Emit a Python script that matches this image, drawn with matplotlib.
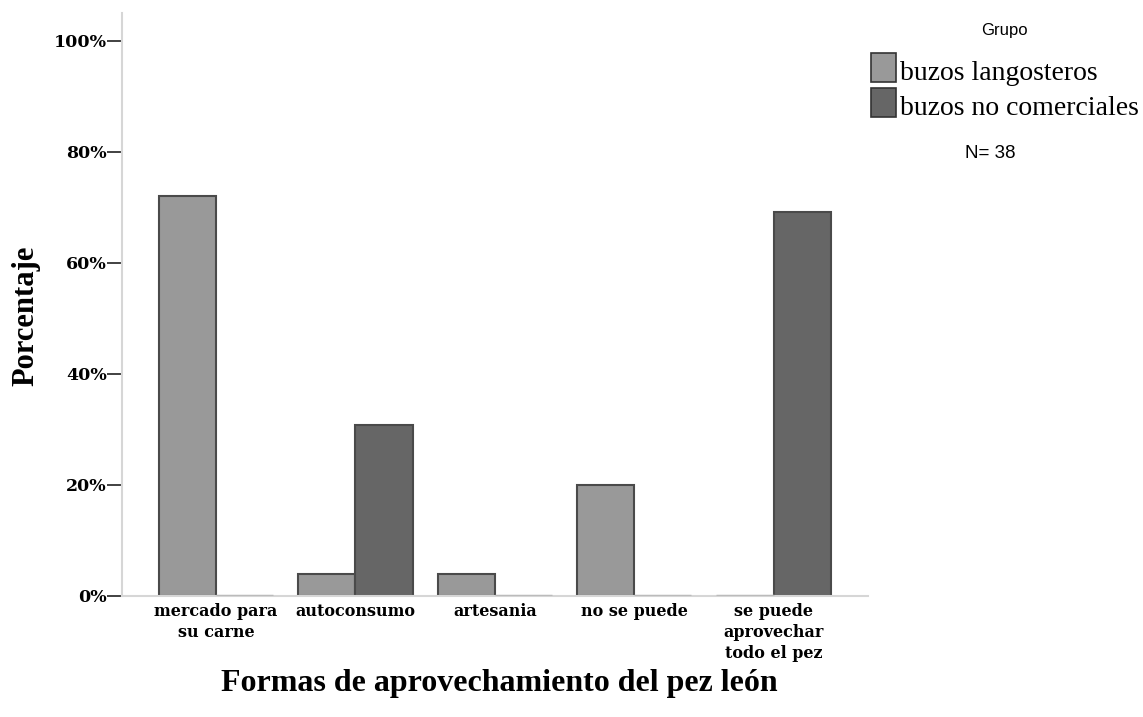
import matplotlib
matplotlib.use("Agg")
import matplotlib.pyplot as plt
import matplotlib.patches as mpatches
import numpy as np

categories = ["mercado para\nsu carne", "autoconsumo", "artesania",
              "no se puede", "se puede\naprovechar\ntodo el pez"]
groups = ["buzos langosteros", "buzos no comerciales"]
langosteros = [72.0, 4.0, 4.0, 20.0, 0.0]
no_comerciales = [0.0, 30.8, 0.0, 0.0, 69.2]
yticks = [0, 20, 40, 60, 80, 100]
n_total = 38

light = "#999999"
dark = "#666666"
edge = "#4a4a4a"
serif = ["Liberation Serif", "DejaVu Serif"]
wide_serif = ["DejaVu Serif"]
sans = ["Liberation Sans", "DejaVu Sans"]

fig = plt.figure(figsize=(11.43, 7.17), dpi=100)
ax = fig.add_axes([122 / 1143, 1 - 596 / 717, (868 - 122) / 1143, (596 - 13) / 717])

x = np.arange(len(categories))
w = 0.41
for vals, col, off in [(langosteros, light, -w / 2), (no_comerciales, dark, w / 2)]:
    for xi, v in zip(x, vals):
        if v > 0:
            ax.bar(xi + off, v, width=w, color=col, edgecolor=edge, linewidth=1.5)
        else:
            # empty category drawn as a flat grey stub on the baseline
            ax.plot([xi + off - w / 2, xi + off + w / 2], [0, 0], color="#bbbbbb", lw=2.5,
                    solid_capstyle="butt", zorder=3)

ax.set_xlim(-0.674, 4.677)
ax.set_ylim(0, 105)
for s in ["top", "right"]:
    ax.spines[s].set_visible(False)
for s in ["left", "bottom"]:
    ax.spines[s].set_color("#d6d6d6")
    ax.spines[s].set_linewidth(1.5)

ax.set_yticks(yticks)
ax.set_yticklabels([f"{t}%" for t in yticks], family=wide_serif, fontweight="bold", fontsize=12.5)
ax.tick_params(axis="y", length=11, width=1.3, color="#333333", pad=0)
ax.set_xticks(x)
ax.set_xticklabels(categories, family=wide_serif, fontweight="bold", fontsize=11.5, linespacing=1.3)
ax.tick_params(axis="x", length=0, pad=5)

fig.text(26 / 1143, 1 - 316 / 717, "Porcentaje", rotation=90, ha="center", va="center",
         family=serif, fontweight="bold", fontsize=22)
fig.text(499 / 1143, 1 - 684 / 717, "Formas de aprovechamiento del pez león", ha="center",
         va="center", family=serif, fontweight="bold", fontsize=23)

# legend
fig.text(1004 / 1143, 1 - 31 / 717, "Grupo", ha="center", va="center", fontsize=12, family=sans)
for i, (g, col) in enumerate(zip(groups, [light, dark])):
    y0 = 53 + i * 35
    fig.patches.append(mpatches.Rectangle((871 / 1143, 1 - (y0 + 29) / 717), 25 / 1143, 29 / 717,
                                          transform=fig.transFigure, facecolor=col,
                                          edgecolor="#333333", linewidth=1.2))
    fig.text(900 / 1143, 1 - (y0 + 27) / 717, g, ha="left", va="baseline", fontsize=20,
             family=serif)
fig.text(990 / 1143, 1 - 153 / 717, f"N= {n_total}", ha="center", va="center", fontsize=13.5,
         family=sans)

fig.savefig("out.png", dpi=100)
